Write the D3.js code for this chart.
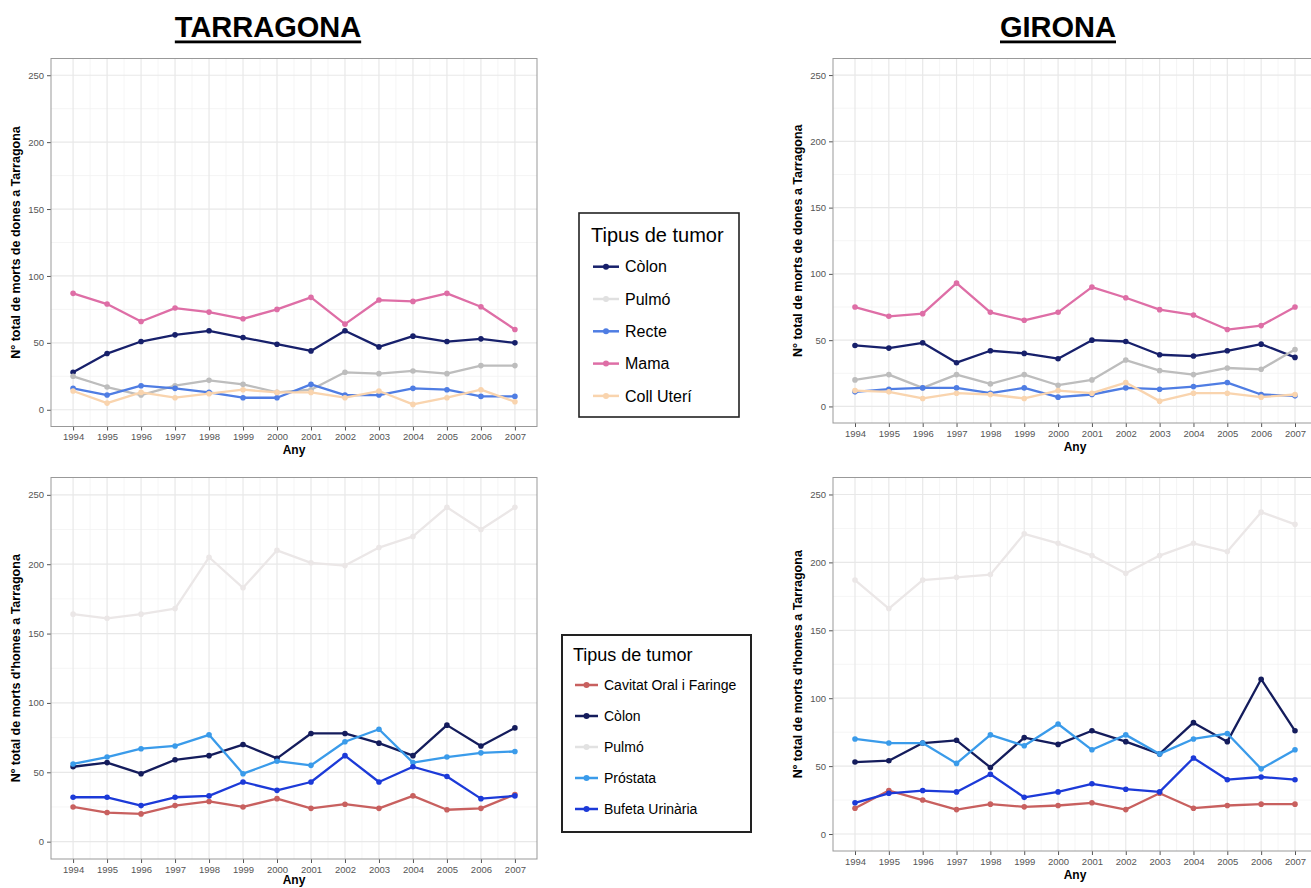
<!DOCTYPE html>
<html>
<head>
<meta charset="utf-8">
<script src="https://cdn.jsdelivr.net/npm/d3@7"></script>
<style>
  body { margin: 0; background: #fff; }
  svg { font-family: "Liberation Sans", Arial, sans-serif; display: block; }
</style>
</head>
<body>
<script>
// years on the x axis
var years = [1994, 1995, 1996, 1997, 1998, 1999, 2000, 2001, 2002, 2003, 2004, 2005, 2006, 2007];
var yTicks = [0, 50, 100, 150, 200, 250];

// women - Tarragona
var tarDonesColon  = [28, 42, 51, 56, 59, 54, 49, 44, 59, 47, 55, 51, 53, 50];
var tarDonesPulmo  = [25, 17, 11, 18, 22, 19, 13, 15, 28, 27, 29, 27, 33, 33];
var tarDonesRecte  = [16, 11, 18, 16, 13, 9, 9, 19, 11, 11, 16, 15, 10, 10];
var tarDonesMama   = [87, 79, 66, 76, 73, 68, 75, 84, 64, 82, 81, 87, 77, 60];
var tarDonesColl   = [14, 5, 13, 9, 12, 15, 13, 13, 9, 14, 4, 9, 15, 6];

// women - Girona
var girDonesColon  = [46, 44, 48, 33, 42, 40, 36, 50, 49, 39, 38, 42, 47, 37];
var girDonesPulmo  = [20, 24, 14, 24, 17, 24, 16, 20, 35, 27, 24, 29, 28, 43];
var girDonesRecte  = [11, 13, 14, 14, 10, 14, 7, 9, 14, 13, 15, 18, 9, 8];
var girDonesMama   = [75, 68, 70, 93, 71, 65, 71, 90, 82, 73, 69, 58, 61, 75];
var girDonesColl   = [12, 11, 6, 10, 9, 6, 12, 10, 18, 4, 10, 10, 7, 9];

// men - Tarragona
var tarHomesCavitat  = [25, 21, 20, 26, 29, 25, 31, 24, 27, 24, 33, 23, 24, 34];
var tarHomesColon    = [54, 57, 49, 59, 62, 70, 60, 78, 78, 71, 62, 84, 69, 82];
var tarHomesPulmo    = [164, 161, 164, 168, 205, 183, 210, 201, 199, 212, 220, 241, 225, 241];
var tarHomesProstata = [56, 61, 67, 69, 77, 49, 58, 55, 72, 81, 57, 61, 64, 65];
var tarHomesBufeta   = [32, 32, 26, 32, 33, 43, 37, 43, 62, 43, 54, 47, 31, 33];

// men - Girona
var girHomesCavitat  = [19, 32, 25, 18, 22, 20, 21, 23, 18, 30, 19, 21, 22, 22];
var girHomesColon    = [53, 54, 67, 69, 49, 71, 66, 76, 68, 59, 82, 68, 114, 76];
var girHomesPulmo    = [187, 166, 187, 189, 191, 221, 214, 205, 192, 205, 214, 208, 237, 228];
var girHomesProstata = [70, 67, 67, 52, 73, 65, 81, 62, 73, 59, 70, 74, 48, 62];
var girHomesBufeta   = [23, 30, 32, 31, 44, 27, 31, 37, 33, 31, 56, 40, 42, 40];

var donesNames = ["Còlon", "Pulmó", "Recte", "Mama", "Coll Uterí"];
var donesColors = ["#17206b", "#bdbdbd", "#4f7de3", "#de6ea6", "#f9d4ae"];
var donesKeyColors = ["#17206b", "#e0e0e0", "#4f7de3", "#de6ea6", "#f9d4ae"];

var homesNames = ["Cavitat Oral i Faringe", "Còlon", "Pulmó", "Próstata", "Bufeta Urinària"];
var homesColors = ["#c8605f", "#141c5c", "#ebe7e7", "#3a9bea", "#1c3ad8"];
var homesKeyColors = ["#c8605f", "#141c5c", "#e2e2e2", "#3a9bea", "#1c3ad8"];

var width = 1311, height = 888;

var svg = d3.select("body").append("svg")
  .attr("width", width)
  .attr("height", height);

function makeSeries(names, colors, arrays) {
  return names.map(function(n, i) {
    return { name: n, color: colors[i], values: arrays[i] };
  });
}

function drawPanel(box, series, yTitle) {
  var x = d3.scaleLinear().domain([1993.35, 2007.65]).range([box.left, box.right]);
  var y = d3.scaleLinear().domain([-12.5, 262.5]).range([box.bottom, box.top]);
  var g = svg.append("g");

  // minor grid
  var minorX = years.slice(0, -1).map(function(d) { return d + 0.5; });
  g.selectAll(".mx").data(minorX).enter().append("line")
    .attr("x1", function(d) { return x(d); }).attr("x2", function(d) { return x(d); })
    .attr("y1", box.top).attr("y2", box.bottom)
    .attr("stroke", "#f3f3f3").attr("stroke-width", 0.8);
  g.selectAll(".my").data([25, 75, 125, 175, 225]).enter().append("line")
    .attr("x1", box.left).attr("x2", box.right)
    .attr("y1", function(d) { return y(d); }).attr("y2", function(d) { return y(d); })
    .attr("stroke", "#f3f3f3").attr("stroke-width", 0.8);

  // major grid
  g.selectAll(".gx").data(years).enter().append("line")
    .attr("x1", function(d) { return x(d); }).attr("x2", function(d) { return x(d); })
    .attr("y1", box.top).attr("y2", box.bottom)
    .attr("stroke", "#e8e8e8").attr("stroke-width", 1.2);
  g.selectAll(".gy").data(yTicks).enter().append("line")
    .attr("x1", box.left).attr("x2", box.right)
    .attr("y1", function(d) { return y(d); }).attr("y2", function(d) { return y(d); })
    .attr("stroke", "#e8e8e8").attr("stroke-width", 1.2);

  // axes
  var xAxis = d3.axisBottom(x).tickValues(years).tickFormat(d3.format("d")).tickSize(4).tickPadding(3);
  var yAxis = d3.axisLeft(y).tickValues(yTicks).tickSize(4).tickPadding(3);
  var gx = g.append("g").attr("transform", "translate(0," + box.bottom + ")").call(xAxis);
  var gy = g.append("g").attr("transform", "translate(" + box.left + ",0)").call(yAxis);
  [gx, gy].forEach(function(a) {
    a.select(".domain").remove();
    a.selectAll(".tick line").attr("stroke", "#555");
    a.selectAll(".tick text").attr("fill", "#555").style("font-size", "9.5px");
  });

  // border
  g.append("rect")
    .attr("x", box.left).attr("y", box.top)
    .attr("width", box.right - box.left).attr("height", box.bottom - box.top)
    .attr("fill", "none").attr("stroke", "#999").attr("stroke-width", 1);

  // lines and points
  var line = d3.line()
    .x(function(d, i) { return x(years[i]); })
    .y(function(d) { return y(d); });
  series.forEach(function(s) {
    g.append("path")
      .attr("d", line(s.values))
      .attr("fill", "none")
      .attr("stroke", s.color)
      .attr("stroke-width", 2.3)
      .attr("stroke-linejoin", "round");
    g.selectAll(null).data(s.values).enter().append("circle")
      .attr("cx", function(d, i) { return x(years[i]); })
      .attr("cy", function(d) { return y(d); })
      .attr("r", 2.8)
      .attr("fill", s.color);
  });

  // axis titles (the bottom one stays inside the page)
  var cx = (box.left + box.right) / 2;
  var cy = (box.top + box.bottom) / 2;
  g.append("text")
    .attr("x", cx).attr("y", Math.min(box.bottom + 27.5, height - 4))
    .attr("text-anchor", "middle")
    .style("font-size", "12px").style("font-weight", "bold")
    .text("Any");
  g.append("text")
    .attr("transform", "translate(" + (box.left - 31) + "," + cy + ") rotate(-90)")
    .attr("text-anchor", "middle")
    .style("font-size", "12.5px").style("font-weight", "bold")
    .text(yTitle);
}

function drawLegend(lg, names, colors) {
  var g = svg.append("g");
  g.append("rect")
    .attr("x", lg.x).attr("y", lg.y)
    .attr("width", lg.w).attr("height", lg.h)
    .attr("fill", "#fff").attr("stroke", "#222").attr("stroke-width", lg.border);
  g.append("text")
    .attr("x", lg.titleX).attr("y", lg.titleY)
    .style("font-size", lg.titleSize + "px")
    .text("Tipus de tumor");
  names.forEach(function(n, i) {
    var cy = lg.firstY + i * lg.step;
    g.append("line")
      .attr("x1", lg.keyX).attr("x2", lg.keyX + lg.keyW)
      .attr("y1", cy).attr("y2", cy)
      .attr("stroke", colors[i]).attr("stroke-width", 2.5);
    g.append("circle")
      .attr("cx", lg.keyX + lg.keyW / 2).attr("cy", cy).attr("r", 3)
      .attr("fill", colors[i]);
    g.append("text")
      .attr("x", lg.textX).attr("y", cy + lg.textSize * 0.36)
      .style("font-size", lg.textSize + "px")
      .text(n);
  });
}

// titles
[["TARRAGONA", 268], ["GIRONA", 1058]].forEach(function(t) {
  var txt = svg.append("text")
    .attr("x", t[1]).attr("y", 37)
    .attr("text-anchor", "middle")
    .style("font-size", "29px").style("font-weight", "bold")
    .text(t[0]);
  var w = txt.node().getComputedTextLength();
  svg.append("rect")
    .attr("x", t[1] - w / 2).attr("y", 40.5)
    .attr("width", w).attr("height", 2.8)
    .attr("fill", "#000");
});

drawPanel({ left: 51, right: 537, top: 58.5, bottom: 426.5 },
  makeSeries(donesNames, donesColors, [tarDonesColon, tarDonesPulmo, tarDonesRecte, tarDonesMama, tarDonesColl]),
  "N° total de morts de dones a Tarragona");
drawPanel({ left: 833, right: 1317, top: 58.5, bottom: 423 },
  makeSeries(donesNames, donesColors, [girDonesColon, girDonesPulmo, girDonesRecte, girDonesMama, girDonesColl]),
  "N° total de morts de dones a Tarragona");
drawPanel({ left: 51, right: 537, top: 477.5, bottom: 859 },
  makeSeries(homesNames, homesColors, [tarHomesCavitat, tarHomesColon, tarHomesPulmo, tarHomesProstata, tarHomesBufeta]),
  "Nº total de morts d'homes a Tarragona");
drawPanel({ left: 833, right: 1317, top: 477.5, bottom: 851 },
  makeSeries(homesNames, homesColors, [girHomesCavitat, girHomesColon, girHomesPulmo, girHomesProstata, girHomesBufeta]),
  "Nº total de morts d'homes a Tarragona");

drawLegend({ x: 579, y: 213, w: 160, h: 204, border: 1.6, titleX: 591, titleY: 242, titleSize: 20,
  firstY: 266.7, step: 32.3, keyX: 593, keyW: 26, textX: 625, textSize: 16 }, donesNames, donesKeyColors);
drawLegend({ x: 562, y: 635, w: 189, h: 197, border: 2, titleX: 573, titleY: 661, titleSize: 18,
  firstY: 685, step: 31, keyX: 575, keyW: 23, textX: 604, textSize: 14 }, homesNames, homesKeyColors);
</script>
</body>
</html>
